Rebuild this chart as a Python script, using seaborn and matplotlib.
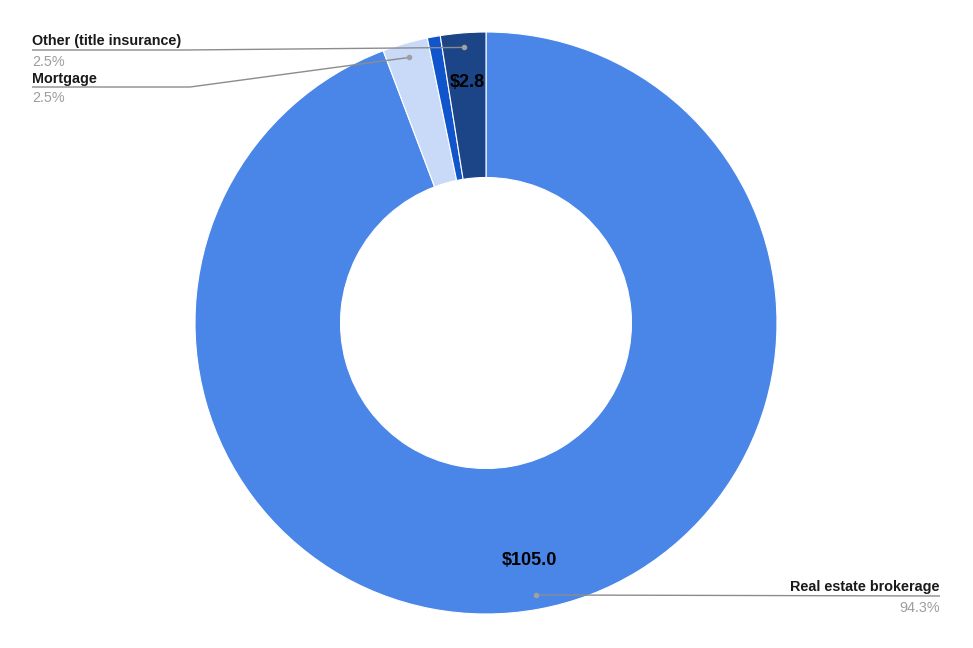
import matplotlib
matplotlib.use("Agg")
import matplotlib.pyplot as plt
import numpy as np
import seaborn as sns

# slices clockwise from 12 o'clock
categories = ["Real estate brokerage", "Mortgage", "", "Other (title insurance)"]
values = [105.0, 2.8, 0.8, 2.8]
value_labels = ["$105.0", "", "", "$2.8"]
pct_labels = ["94.3%", "2.5%", "", "2.5%"]
colors = ["#4a86e8", "#c9daf8", "#1155cc", "#1c4587"]

W, H = 973, 648
CX, CY, R, HOLE = 486, 323, 291, 145.5


def py(y):
    # pixel row -> data y (y axis points up)
    return H - y


sns.set_theme(style="white")
plt.rcParams["font.family"] = ["Liberation Sans", "DejaVu Sans"]

fig = plt.figure(figsize=(W / 100, H / 100), dpi=100)
ax = fig.add_axes([0, 0, 1, 1])

wedges, _ = ax.pie(values, colors=colors, startangle=90, counterclock=False,
                   center=(CX, py(CY)), radius=R,
                   wedgeprops=dict(width=R - HOLE, edgecolor="white", linewidth=0.8))

ax.set_xlim(0, W)
ax.set_ylim(0, H)
ax.set_aspect("equal")
ax.axis("off")


def polar(w, frac):
    ang = np.deg2rad((w.theta1 + w.theta2) / 2)
    return CX + frac * R * np.cos(ang), py(CY) + frac * R * np.sin(ang)


# value labels inside ring
for w, lab in zip(wedges, value_labels):
    if lab:
        x, y = polar(w, 0.83)
        ax.text(x, y, lab, ha="center", va="center", fontsize=13,
                fontweight="bold", color="black")

line_kw = dict(color="#8c8c8c", lw=1, solid_capstyle="butt")
dot_kw = dict(marker="o", ms=3, color="#a0a0a0", ls="none")
FS = 10.4

# left-side labels: (text x, underline y, underline end x)
left_layout = {
    "Other (title insurance)": (32, 50, 186),
    "Mortgage": (32, 87, 190),
}
for w, cat, pct in zip(wedges, categories, pct_labels):
    if cat in left_layout:
        tx, ly, ex = left_layout[cat]
        ax_, ay_ = polar(w, 0.95)
        ax.plot([tx, ex, ax_], [py(ly), py(ly), ay_], **line_kw)
        ax.plot([ax_], [ay_], **dot_kw)
        ax.text(tx, py(ly - 4.5), cat, ha="left", va="baseline", fontsize=FS,
                fontweight="bold", color="#1a1a1a")
        ax.text(tx, py(ly + 4.5), pct, ha="left", va="top", fontsize=FS,
                color="#9e9e9e")
    elif cat == "Real estate brokerage":
        ax_, ay_ = polar(w, 0.95)
        ex, ly = 940, 596
        ax.plot([ax_, ex], [ay_, py(ly)], **line_kw)
        ax.plot([ax_], [ay_], **dot_kw)
        ax.text(ex, py(ly - 4.5), cat, ha="right", va="baseline", fontsize=FS,
                fontweight="bold", color="#1a1a1a")
        ax.text(ex, py(ly + 4.5), pct, ha="right", va="top", fontsize=FS,
                color="#9e9e9e")

fig.savefig("out.png", dpi=100, facecolor="white")
